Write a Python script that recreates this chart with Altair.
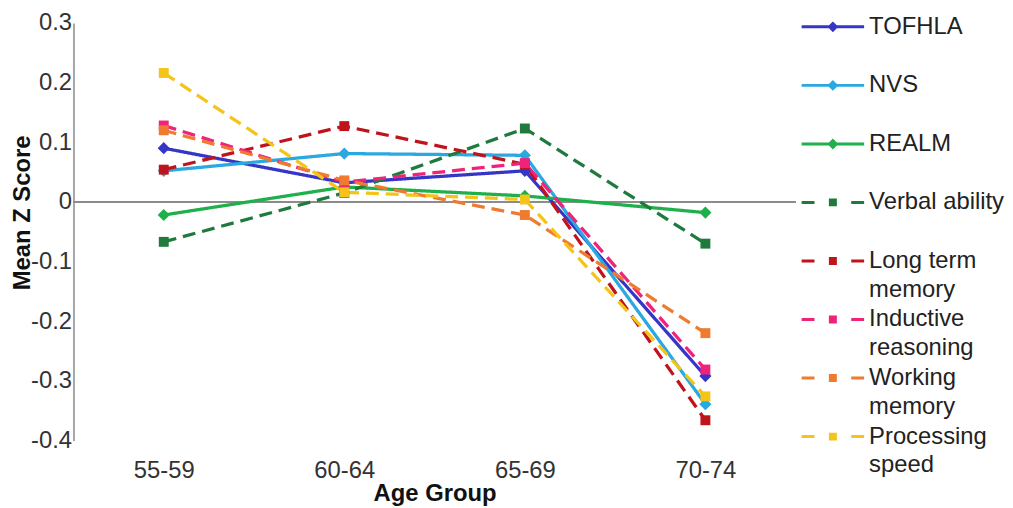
import json
import altair as alt
import pandas as pd

# ---- data ----
age_groups = ["55-59", "60-64", "65-69", "70-74"]
series_names = [
    "TOFHLA", "NVS", "REALM", "Verbal ability", "Long term memory",
    "Inductive reasoning", "Working memory", "Processing speed",
]
tofhla = [0.090, 0.032, 0.052, -0.292]
nvs = [0.052, 0.081, 0.078, -0.339]
realm = [-0.022, 0.025, 0.010, -0.018]
verbal_ability = [-0.067, 0.015, 0.123, -0.070]
long_term_memory = [0.054, 0.127, 0.063, -0.366]
inductive_reasoning = [0.128, 0.033, 0.065, -0.281]
working_memory = [0.120, 0.036, -0.022, -0.220]
processing_speed = [0.216, 0.016, 0.004, -0.326]
y_ticks = [-0.4, -0.3, -0.2, -0.1, 0.0, 0.1, 0.2, 0.3]

legend_lines = {
    "Long term memory": ["Long term", "memory"],
    "Inductive reasoning": ["Inductive", "reasoning"],
    "Working memory": ["Working", "memory"],
    "Processing speed": ["Processing", "speed"],
}

# ---- styles ----
series_colors = ["#3535c8", "#2aa8e0", "#1fb04c", "#1f7a3d", "#c0141c",
                 "#f0237a", "#ee7b30", "#f4c41a"]
series_dashes = [[1, 0]] * 3 + [[13, 7]] * 5
solid_series = series_names[:3]    # literacy measures: solid lines, diamonds
dashed_series = series_names[3:]   # cognitive abilities: dashed lines, squares
# legend glyphs (unit = 12px): a line segment with the marker in its middle
solid_glyph = ("M-1,-0.125H4.25V0.125H-1Z "
               "M1.165,0L1.625,-0.46L2.085,0L1.625,0.46Z")
dashed_glyph = ("M-1,-0.125H0.083V0.125H-1Z M3.167,-0.125H4.25V0.125H3.167Z "
                "M1.29,-0.33H1.96V0.33H1.29Z")
legend_glyphs = [solid_glyph] * 3 + [dashed_glyph] * 5

values_by_series = [tofhla, nvs, realm, verbal_ability, long_term_memory,
                    inductive_reasoning, working_memory, processing_speed]
rows = []
for name, vals in zip(series_names, values_by_series):
    for g, v in zip(age_groups, vals):
        rows.append({"series": name, "age": g, "z": v})
df = pd.DataFrame(rows)

label_expr = " : ".join(
    f"datum.label == '{k}' ? {json.dumps(v)}" for k, v in legend_lines.items()
) + " : datum.label"

font = "Liberation Sans"

x_enc = alt.X(
    "age:N",
    sort=age_groups,
    scale=alt.Scale(type="point", padding=0.5),
    axis=alt.Axis(
        title="Age Group", domain=False, ticks=False, tickSize=0,
        labelFontSize=24, labelColor="#333333", labelPadding=18, labelAngle=0,
        titleFontSize=24, titleFontWeight="bold", titleColor="#111111",
        titleY=53, titleBaseline="middle",
    ),
)
y_enc = alt.Y(
    "z:Q",
    scale=alt.Scale(domain=[-0.4, 0.3], nice=False, zero=False),
    axis=alt.Axis(
        title="Mean Z Score", values=y_ticks, grid=False, ticks=False, tickSize=0,
        domainColor="#a6a6a6", domainWidth=2,
        labelFontSize=24, labelColor="#333333", labelPadding=2,
        labelExpr="abs(datum.value) < 1e-9 ? '0' : (datum.value < 0 ? '-' + format(-datum.value, '.1f') : format(datum.value, '.1f'))",
        titleFontSize=24, titleFontWeight="bold", titleColor="#111111",
        titleAngle=270, titleX=-51, titleY=191, titleBaseline="middle", titleAlign="center",
    ),
)


def color_scale():
    return alt.Scale(domain=series_names, range=series_colors)


base = alt.Chart(df)

zero_line = base.mark_rule(color="#8c8c8c", strokeWidth=1.5).encode(y=alt.datum(0))

lines = base.mark_line(strokeWidth=3.3).encode(
    x=x_enc,
    y=y_enc,
    color=alt.Color("series:N", scale=color_scale(), legend=None),
    strokeDash=alt.StrokeDash("series:N",
                              scale=alt.Scale(domain=series_names, range=series_dashes),
                              legend=None),
)

diamonds = base.transform_filter(
    alt.FieldOneOfPredicate(field="series", oneOf=solid_series)
).mark_point(filled=True, opacity=1, size=150, shape="diamond").encode(
    x=x_enc, y=y_enc, color=alt.Color("series:N", scale=color_scale(), legend=None)
)

squares = base.transform_filter(
    alt.FieldOneOfPredicate(field="series", oneOf=dashed_series)
).mark_point(filled=True, opacity=1, size=100, shape="square").encode(
    x=x_enc, y=y_enc, color=alt.Color("series:N", scale=color_scale(), legend=None)
)

legend_cfg = dict(
    title=None, orient="none", legendX=734, legendY=-8,
    symbolSize=576, symbolStrokeWidth=0, symbolOpacity=1,
    labelFontSize=24, labelFont=font, labelColor="#222222",
    labelLimit=300, labelOffset=44, labelExpr=label_expr,
    rowPadding=6, gridAlign="all", padding=0, offset=0,
)

# invisible layer whose only job is to carry the legend
legend_layer = base.mark_point(filled=True, opacity=0, size=576).encode(
    x=x_enc,
    y=y_enc,
    color=alt.Color("series:N", scale=color_scale(), legend=alt.Legend(**legend_cfg)),
    shape=alt.Shape("series:N",
                    scale=alt.Scale(domain=series_names, range=legend_glyphs),
                    legend=alt.Legend(**legend_cfg)),
)

chart = (
    alt.layer(zero_line, lines, diamonds, squares, legend_layer)
    .resolve_scale(color="independent", shape="independent")
    .properties(
        width=728, height=421,
        autosize=alt.AutoSizeParams(type="none"),
        padding={"left": 66, "top": 13, "right": 211, "bottom": 66},
    )
    .configure(font=font, style={"guide-label": {"lineHeight": 29}})
    .configure_view(stroke=None)
)

chart.save("out.html", embed_options={"renderer": "svg", "actions": False})
